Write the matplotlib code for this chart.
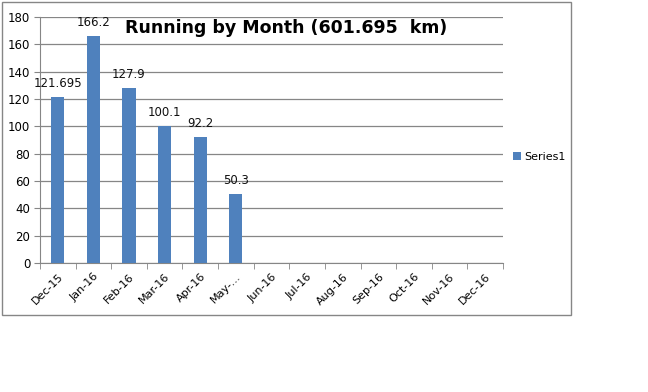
import numpy as np
import matplotlib
matplotlib.use('Agg')
import matplotlib.pyplot as plt
from matplotlib.patches import Rectangle

# Monthly running distance (km)
months = ['Dec-15', 'Jan-16', 'Feb-16', 'Mar-16', 'Apr-16', 'May-...',
          'Jun-16', 'Jul-16', 'Aug-16', 'Sep-16', 'Oct-16', 'Nov-16', 'Dec-16']
km = [121.695, 166.2, 127.9, 100.1, 92.2, 50.3]
km_labels = ['121.695', '166.2', '127.9', '100.1', '92.2', '50.3']
yticks = [0, 20, 40, 60, 80, 100, 120, 140, 160, 180]
title = 'Running by Month (601.695  km)'

plt.rcParams['font.family'] = ['DejaVu Sans']

fig = plt.figure(figsize=(6.48, 3.92), dpi=100, facecolor='white')
ax = fig.add_axes([40/648, 1-263/392, 463/648, 246/392])

x = np.arange(len(months))
vals = km + [0]*(len(months)-len(km))
bars = ax.bar(x, vals, width=0.37, color='#4F81BD', zorder=3, label='Series1')

for i, lab in enumerate(km_labels):
    ax.text(x[i], km[i] + 5, lab, ha='center', va='bottom', fontsize=8.5, color='#111111')

ax.set_xlim(-0.5, len(months)-0.5)
ax.set_ylim(0, 180)
ax.set_yticks(yticks)
ax.set_yticklabels([str(v) for v in yticks], fontsize=8.5)
ax.set_xticks(x)
ax.set_xticklabels(months, rotation=45, ha='right', rotation_mode='anchor', fontsize=8)
ax.set_xticks(np.arange(-0.5, len(months)), minor=True)
ax.tick_params(axis='x', which='major', length=0, pad=6)
ax.tick_params(axis='x', which='minor', length=4, color='#868686', direction='out')
ax.tick_params(axis='y', length=4, color='#868686', direction='out', pad=3)
ax.yaxis.grid(True, color='#868686', lw=0.9, zorder=0)
for s in ('top', 'right'):
    ax.spines[s].set_visible(False)
for s in ('left', 'bottom'):
    ax.spines[s].set_color('#868686')

fig.text(286/648, 1-28/392, title, ha='center', va='center', fontsize=12.5, fontweight='bold')

fig.legend(handles=[bars], labels=['Series1'], loc='center left',
           bbox_to_anchor=(503/648, 1-157/392), frameon=False, fontsize=8,
           handlelength=0.7, handleheight=0.7, handletextpad=0.3)

fig.patches.append(Rectangle((2/648, 1-315/392), 569/648, 313/392,
                             transform=fig.transFigure, fill=False,
                             edgecolor='#868686', lw=1))

fig.savefig('out.png', dpi=100, facecolor='white')
